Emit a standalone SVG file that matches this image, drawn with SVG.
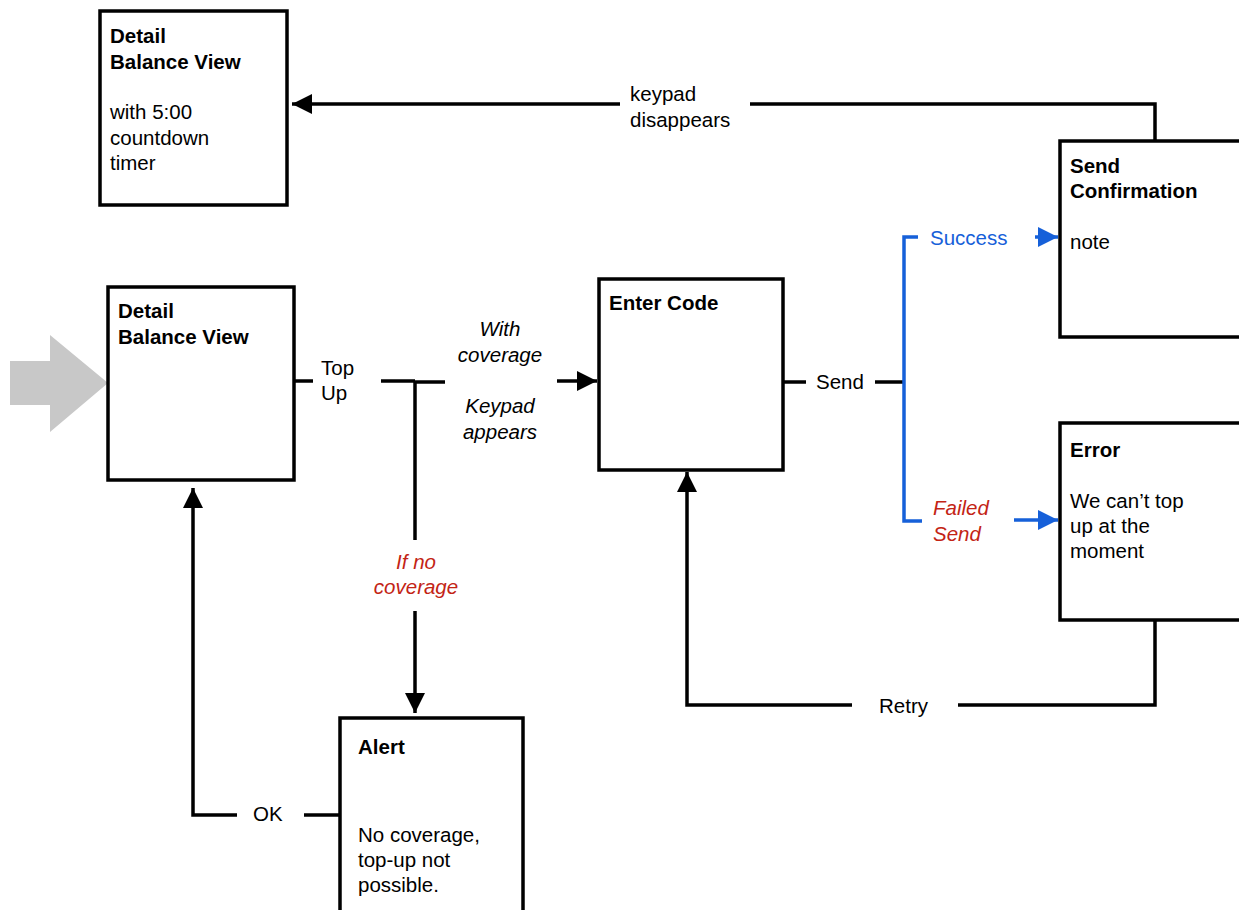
<svg xmlns="http://www.w3.org/2000/svg" width="1239" height="910" viewBox="0 0 1239 910">
<defs>
<style>
text{font-family:"Liberation Sans",Arial,sans-serif;font-size:20.5px;fill:#000}
.b{font-weight:bold}
.i{font-style:italic}
.red{fill:#c32415}
.blue{fill:#1660d9}
.box{fill:#fff;stroke:#000;stroke-width:3.5}
.ln{fill:none;stroke:#000;stroke-width:3.5}
.bl{fill:none;stroke:#1660d9;stroke-width:3.5}
</style>
<marker id="ah" markerUnits="userSpaceOnUse" markerWidth="22" markerHeight="22" refX="20" refY="10" orient="auto" viewBox="0 0 22 20">
<path d="M0,0 L20,10 L0,20 Z" fill="#000"/>
</marker>
<marker id="ahb" markerUnits="userSpaceOnUse" markerWidth="22" markerHeight="22" refX="20" refY="10" orient="auto" viewBox="0 0 22 20">
<path d="M0,0 L20,10 L0,20 Z" fill="#1660d9"/>
</marker>
</defs>
<rect width="1239" height="910" fill="#fff"/>

<polygon id="start" points="10,361 50,361 50,335 108,383 50,432 50,405 10,405" fill="#c8c8c8"/>

<g id="connectors">
<path class="ln" d="M1155,141 V104 H750"/>
<path class="ln" d="M620,104 H292" marker-end="url(#ah)"/>
<path class="ln" d="M294,381 H313"/>
<path class="ln" d="M381,381 H415"/>
<path class="ln" d="M415,382 H445"/>
<path class="ln" d="M557,381 H597" marker-end="url(#ah)"/>
<path class="ln" d="M415,381 V540"/>
<path class="ln" d="M415,611 V713" marker-end="url(#ah)"/>
<path class="ln" d="M340,815 H304"/>
<path class="ln" d="M237,815 H193 V488" marker-end="url(#ah)"/>
<path class="ln" d="M783,382 H806"/>
<path class="ln" d="M875,382 H904"/>
<path class="bl" d="M918,237 H904 V521 H922"/>
<path class="bl" d="M1035,237 H1058" marker-end="url(#ahb)"/>
<path class="bl" d="M1014,520 H1058" marker-end="url(#ahb)"/>
<path class="ln" d="M1155,620 V705 H958"/>
<path class="ln" d="M852,705 H687 V472" marker-end="url(#ah)"/>
</g>

<g id="labels">
<text x="321" y="375">Top</text>
<text x="321" y="400">Up</text>
<g class="i" text-anchor="middle">
<text class="i" x="500" y="336">With</text>
<text class="i" x="500" y="362">coverage</text>
<text class="i" x="500" y="413">Keypad</text>
<text class="i" x="500" y="439">appears</text>
</g>
<text class="i red" x="416" y="569" text-anchor="middle">If no</text>
<text class="i red" x="416" y="594" text-anchor="middle">coverage</text>
<text x="253" y="821">OK</text>
<text x="816" y="389">Send</text>
<text class="blue" x="930" y="245">Success</text>
<text class="i red" x="933" y="515">Failed</text>
<text class="i red" x="933" y="541">Send</text>
<text x="630" y="101">keypad</text>
<text x="630" y="127">disappears</text>
<text x="879" y="713">Retry</text>
</g>

<g id="detail-timer">
<rect class="box" x="100" y="11" width="187" height="194"/>
<text class="b" x="110" y="43">Detail</text>
<text class="b" x="110" y="69">Balance View</text>
<text x="110" y="119">with 5:00</text>
<text x="110" y="145">countdown</text>
<text x="110" y="170">timer</text>
</g>

<g id="detail-main">
<rect class="box" x="108" y="287" width="186" height="193"/>
<text class="b" x="118" y="318">Detail</text>
<text class="b" x="118" y="344">Balance View</text>
</g>

<g id="enter-code">
<rect class="box" x="599" y="279" width="184" height="191"/>
<text class="b" x="609" y="310">Enter Code</text>
</g>

<g id="send-confirmation">
<rect class="box" x="1060" y="141" width="190" height="196"/>
<text class="b" x="1070" y="173">Send</text>
<text class="b" x="1070" y="198">Confirmation</text>
<text x="1070" y="249">note</text>
</g>

<g id="error">
<rect class="box" x="1060" y="423" width="190" height="197"/>
<text class="b" x="1070" y="457">Error</text>
<text x="1070" y="508">We can’t top</text>
<text x="1070" y="533">up at the</text>
<text x="1070" y="558">moment</text>
</g>

<g id="alert">
<rect class="box" x="340" y="718" width="183" height="200"/>
<text class="b" x="358" y="754">Alert</text>
<text x="358" y="842">No coverage,</text>
<text x="358" y="867">top-up not</text>
<text x="358" y="892">possible.</text>
</g>
</svg>
